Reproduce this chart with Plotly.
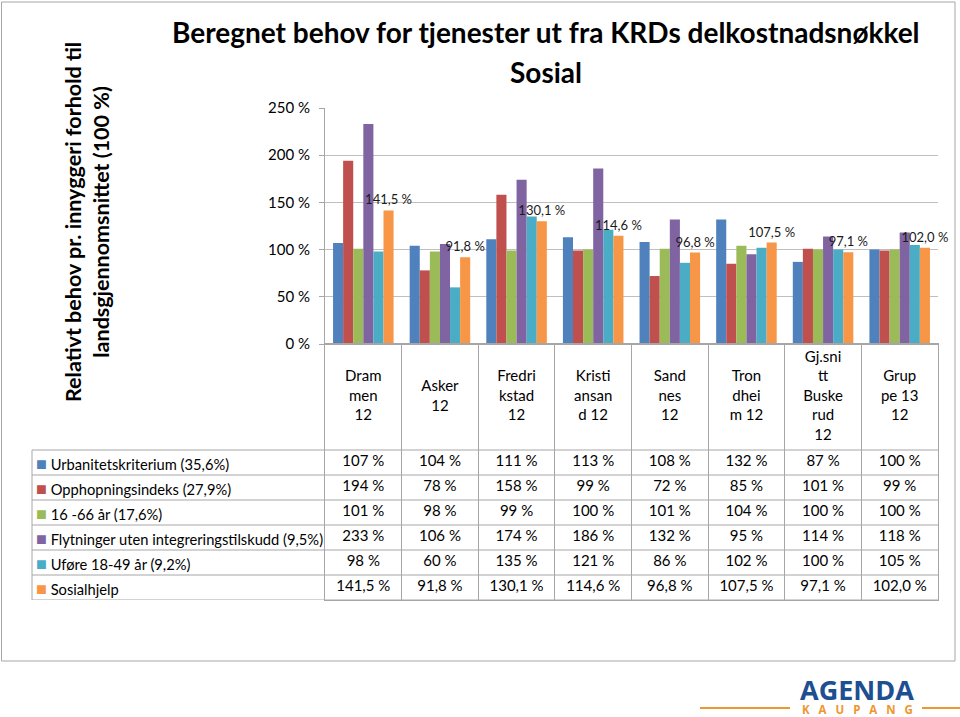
import plotly.graph_objects as go

# ---------------- data ----------------
categories = ["Drammen 12", "Asker 12", "Fredrikstad 12", "Kristiansand 12",
              "Sandnes 12", "Trondheim 12", "Gj.snitt Buskerud 12", "Gruppe 13 12"]
header_labels = ["Dram<br>men<br>12", "Asker<br>12", "Fredri<br>kstad<br>12",
                 "Kristi<br>ansan<br>d 12", "Sand<br>nes<br>12", "Tron<br>dhei<br>m 12",
                 "Gj.sni<br>tt<br>Buske<br>rud<br>12", "Grup<br>pe 13<br>12"]
series_names = ["Urbanitetskriterium (35,6%)", "Opphopningsindeks (27,9%)",
                "16 -66 år (17,6%)", "Flytninger uten integreringstilskudd (9,5%)",
                "Uføre 18-49 år (9,2%)", "Sosialhjelp"]
urbanitet = [107, 104, 111, 113, 108, 132, 87, 100]
opphopning = [194, 78, 158, 99, 72, 85, 101, 99]
alder_16_66 = [101, 98, 99, 100, 101, 104, 100, 100]
flytninger = [233, 106, 174, 186, 132, 95, 114, 118]
ufore = [98, 60, 135, 121, 86, 102, 100, 105]
sosialhjelp = [141.5, 91.8, 130.1, 114.6, 96.8, 107.5, 97.1, 102.0]
y_ticks = [0, 50, 100, 150, 200, 250]

series_values = [urbanitet, opphopning, alder_16_66, flytninger, ufore, sosialhjelp]
colors = ["#4F81BD", "#C0504D", "#9BBB59", "#8064A2", "#4BACC6", "#F79646"]

FONT = "Lato, 'Open Sans', sans-serif"
GRID = "#BFBFBF"
TLINE = "#A6A6A6"


def fmt(v, decimals):
    if decimals == 0:
        return f"{v:.0f} %"
    return f"{v:.1f} %".replace(".", ",")


fig = go.Figure()

# bars
for i, (name, vals, col) in enumerate(zip(series_names, series_values, colors)):
    is_last = i == len(series_names) - 1
    fig.add_trace(go.Bar(
        x=categories, y=vals, name=name, marker=dict(color=col, line=dict(width=0)),
        text=[fmt(v, 1) for v in vals] if is_last else None,
        textposition="outside" if is_last else None,
        textfont=dict(family=FONT, size=13, color="#1a1a1a"),
        constraintext="none", cliponaxis=False,
        xaxis="x", yaxis="y", showlegend=False,
    ))

# table: header + values (in the lower subplot)
ROW_H_TOP = 6
header_y = 8.12
fig.add_trace(go.Scatter(
    x=categories, y=[header_y] * len(categories), mode="text", text=header_labels,
    textposition="middle center", textfont=dict(family=FONT, size=15, color="#000000"),
    xaxis="x2", yaxis="y2", showlegend=False, hoverinfo="skip", cliponaxis=False,
))
for i, vals in enumerate(series_values):
    dec = 1 if i == len(series_values) - 1 else 0
    fig.add_trace(go.Scatter(
        x=categories, y=[ROW_H_TOP - 0.5 - i] * len(categories), mode="text",
        text=[fmt(v, dec) for v in vals], textposition="middle center",
        textfont=dict(family=FONT, size=15, color="#000000"),
        xaxis="x2", yaxis="y2", showlegend=False, hoverinfo="skip", cliponaxis=False,
    ))

# geometry helpers (plot area: x 325..938, y 108..600)
L, R, T, B = 325, 938, 108, 600
W, H = R - L, B - T


def px(xpix):
    return (xpix - L) / W


def py(ypix):
    return (B - ypix) / H


bar_bottom = py(344)

shapes = []
annotations = []
# horizontal table lines across legend column and values
for k in range(0, ROW_H_TOP + 1):
    shapes.append(dict(type="line", xref="paper", yref="y2", x0=px(32), x1=1, y0=k, y1=k,
                       line=dict(color=TLINE, width=1)))
shapes.append(dict(type="line", xref="paper", yref="y2", x0=px(32), x1=px(32), y0=0, y1=ROW_H_TOP,
                   line=dict(color=TLINE, width=1)))
# outer frame
shapes.append(dict(type="rect", xref="paper", yref="paper", x0=px(1.5), x1=px(955), y0=py(2), y1=py(661),
                   line=dict(color="#A6A6A6", width=1), layer="below"))

# legend column
for i, (name, col) in enumerate(zip(series_names, colors)):
    annotations.append(dict(
        xref="paper", yref="y2", x=px(34), y=ROW_H_TOP - 0.5 - i, xanchor="left", yanchor="middle",
        text=f"<span style='color:{col};font-size:18px'>■</span> {name}", showarrow=False,
        font=dict(family=FONT, size=14.7, color="#000000"),
    ))

# title (two lines)
annotations.append(dict(
    xref="paper", yref="paper", x=px(546), y=py(32), xanchor="center", yanchor="middle",
    text="<b>Beregnet behov for tjenester ut fra KRDs delkostnadsnøkkel</b>",
    showarrow=False, font=dict(family=FONT, size=28, color="#000000"),
))
annotations.append(dict(
    xref="paper", yref="paper", x=px(546), y=py(72), xanchor="center", yanchor="middle",
    text="<b>Sosial</b>",
    showarrow=False, font=dict(family=FONT, size=28, color="#000000"),
))
# y axis title
annotations.append(dict(
    xref="paper", yref="paper", x=px(87), y=py(222), xanchor="center", yanchor="middle",
    text="<b>Relativt behov pr. innyggeri forhold til<br>landsgjennomsnittet (100 %)</b>",
    textangle=-90, showarrow=False, font=dict(family=FONT, size=21.5, color="#000000"),
))
# logo
annotations.append(dict(
    xref="paper", yref="paper", x=px(857), y=py(689), xanchor="center", yanchor="middle",
    text="<b>AGENDA</b>", showarrow=False,
    font=dict(family="'Open Sans', sans-serif", size=27, color="#1D4F91"),
))
annotations.append(dict(
    xref="paper", yref="paper", x=px(857), y=py(709), xanchor="center", yanchor="middle",
    text="<b>K   A   U   P   A   N   G</b>", showarrow=False,
    font=dict(family="'Open Sans', sans-serif", size=11.5, color="#F0962E"),
))
shapes.append(dict(type="line", xref="paper", yref="paper", x0=px(700), x1=px(790), y0=py(708), y1=py(708),
                   line=dict(color="#F0962E", width=2)))
shapes.append(dict(type="line", xref="paper", yref="paper", x0=px(922), x1=px(960), y0=py(708), y1=py(708),
                   line=dict(color="#F0962E", width=2)))

fig.update_layout(
    width=960, height=717,
    margin=dict(l=L, r=960 - R, t=T, b=717 - B, pad=0),
    paper_bgcolor="white", plot_bgcolor="white",
    barmode="group", bargap=0.21, bargroupgap=0,
    showlegend=False,
    font=dict(family=FONT, size=15, color="#000000"),
    xaxis=dict(domain=[0, 1], anchor="y", type="category", range=[-0.5, 7.5],
               showticklabels=False, ticks="", showgrid=False, zeroline=False,
               showline=True, linecolor=TLINE, linewidth=1),
    yaxis=dict(domain=[bar_bottom, 1], anchor="x", range=[0, 250], tickvals=y_ticks,
               ticktext=[f"{v} %" for v in y_ticks], ticks="outside", ticklen=5, tickcolor=TLINE,
               ticklabelstandoff=6,
               showgrid=True, gridcolor=GRID, gridwidth=1, zeroline=False,
               showline=True, linecolor=TLINE, linewidth=1,
               tickfont=dict(family=FONT, size=15, color="#000000")),
    xaxis2=dict(domain=[0, 1], anchor="y2", type="category", range=[-0.5, 7.5],
                categoryorder="array", categoryarray=categories,
                showticklabels=False, ticks="", showgrid=True, gridcolor=TLINE, gridwidth=1,
                tickson="boundaries", zeroline=False, showline=True, mirror=True,
                linecolor=TLINE, linewidth=1),
    yaxis2=dict(domain=[0, bar_bottom], anchor="x2", range=[0, 10.24],
                showticklabels=False, ticks="", showgrid=False, zeroline=False,
                showline=True, mirror=True, linecolor=TLINE, linewidth=1),
    shapes=shapes, annotations=annotations,
)

fig.write_html("out.html", config={"displayModeBar": False},
               post_script="document.body.style.margin='0px';")
